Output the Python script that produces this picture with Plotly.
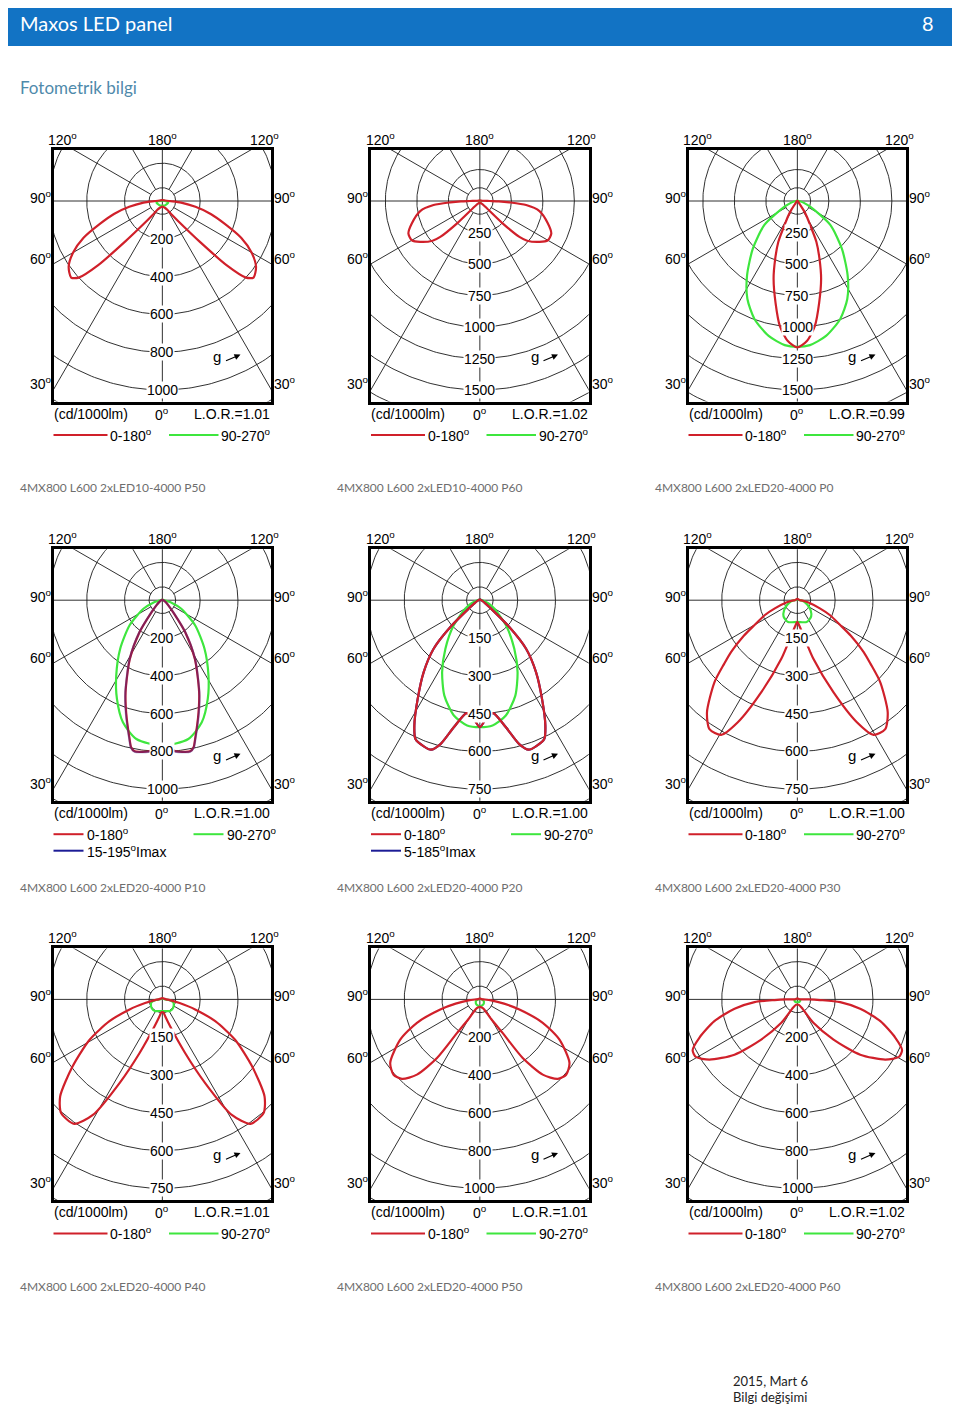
import numpy as np
import plotly.graph_objects as go

# ------------------------------------------------------------------ data
CAPTIONS = ["4MX800 L600 2xLED10-4000 P50", "4MX800 L600 2xLED10-4000 P60", "4MX800 L600 2xLED20-4000 P0",
            "4MX800 L600 2xLED20-4000 P10", "4MX800 L600 2xLED20-4000 P20", "4MX800 L600 2xLED20-4000 P30",
            "4MX800 L600 2xLED20-4000 P40", "4MX800 L600 2xLED20-4000 P50", "4MX800 L600 2xLED20-4000 P60"]
RING_STEP = [200, 250, 250, 200, 150, 150, 150, 200, 200]
RING_COUNT = [5, 6, 6, 5, 5, 5, 5, 5, 5]
LOR = ["1.01", "1.02", "0.99", "1.00", "1.00", "1.00", "1.01", "1.01", "1.02"]
IMAX_LABELS = ["", "", "", "15-195", "5-185", "", "", "", ""]

# gamma (deg from nadir) / intensity (cd/1000lm); C0-C180 plane = red, C90-C270 = green
P1_RED_G = [0, 10, 20, 30, 35, 40, 42.5, 45, 47.5, 50, 55, 60, 65, 70, 75, 80, 85, 88, 90, 100, 120, 150, 180]
P1_RED_I = [30, 32, 38, 55, 90, 180, 290, 480, 600, 630, 605, 545, 460, 350, 265, 178, 100, 55, 35, 15, 8, 5, 5]
P1_GREEN_G = [0, 30, 60, 75, 85, 90, 100, 180]
P1_GREEN_I = [25, 27, 30, 32, 25, 15, 8, 3]

P2_RED_G = [0, 20, 35, 42, 44, 45.5, 47.8, 50, 55.6, 60, 65.5, 71.7, 80.4, 85, 87.4, 89, 90, 95, 120, 180]
P2_RED_I = [15, 18, 25, 45, 80, 250, 424, 490, 574, 623, 623, 569, 480, 369, 234, 150, 80, 20, 8, 5]
P2_GREEN_G = [0, 45, 90, 180]
P2_GREEN_I = [8, 8, 5, 3]

P3_RED_G = [0, 4, 8, 12, 17, 21, 25, 28, 31, 34, 37, 40, 50, 60, 75, 90, 180]
P3_RED_I = [1162, 1112, 1000, 830, 645, 490, 357, 217, 150, 90, 40, 20, 12, 8, 5, 3, 2]
P3_GREEN_G = [0, 5, 12, 20, 27, 34, 43, 54, 66, 75, 85, 90, 180]
P3_GREEN_I = [1157, 1148, 1095, 996, 873, 714, 518, 323, 111, 50, 20, 10, 3]

P4_RED_G = [0, 3, 5.4, 8, 10.4, 12, 13.3, 17.9, 21.8, 29, 35.6, 41.7, 50, 60, 90, 180]
P4_RED_I = [780, 790, 804, 810, 813, 795, 754, 623, 524, 355, 207, 88, 40, 20, 5, 3]
P4_BLUE_G = [0, 3, 5.4, 8, 10.4, 12, 13.3, 17.9, 21.8, 29, 35.6, 41.7, 50, 60, 90, 180]
P4_BLUE_I = [782, 792, 806, 812, 815, 798, 758, 628, 528, 358, 209, 90, 40, 20, 5, 3]
P4_GREEN_G = [0, 10.6, 17.9, 24.7, 31.5, 41, 52.6, 65.9, 75, 90, 180]
P4_GREEN_I = [770, 747, 679, 575, 467, 340, 218, 108, 50, 10, 3]

P5_RED_G = [0, 3.8, 6.75, 11.6, 15.3, 18.1, 21, 24.9, 27.6, 32.2, 38, 43.6, 47.7, 52.9, 60, 75, 90, 180]
P5_RED_I = [504, 462, 451, 515, 592, 624, 621, 607, 561, 463, 362, 266, 158, 55, 25, 10, 5, 3]
P5_BLUE_G = [0, 3.8, 6.75, 11.6, 15.3, 18.1, 21, 24.9, 27.6, 32.2, 38, 43.6, 47.7, 52.9, 60, 75, 90, 180]
P5_BLUE_I = [504, 462, 451, 515, 592, 624, 621, 607, 561, 463, 362, 266, 158, 55, 25, 10, 5, 3]
P5_GREEN_G = [0, 5.8, 12.7, 20.4, 27.7, 35.4, 46.1, 59.8, 70, 80, 90, 180]
P5_GREEN_I = [504, 500, 469, 404, 322, 236, 144, 66, 35, 15, 8, 3]

P6_RED_G = [0, 5, 9.7, 15.3, 21.4, 26, 29.5, 34.3, 38.9, 45.3, 49, 52, 56.4, 60, 65.3, 70, 78, 85, 90, 180]
P6_RED_I = [86, 105, 141, 241, 392, 539, 614, 619, 571, 463, 385, 334, 255, 195, 143, 95, 45, 20, 10, 5]
P6_GREEN_G = [0, 23, 40, 53, 65, 80, 90, 180]
P6_GREEN_I = [86, 94, 85, 66, 45, 25, 10, 3]

P7_RED_G = [0, 5, 10, 16, 23, 27.1, 31, 35.3, 41.7, 46.5, 53.3, 61, 67.6, 73, 78, 85, 90, 180]
P7_RED_I = [50, 52, 70, 110, 231, 373, 535, 605, 604, 559, 444, 330, 227, 136, 70, 30, 15, 5]
P7_GREEN_G = [0, 20, 33, 50, 65, 75, 85, 90, 180]
P7_GREEN_I = [46, 49, 55, 55, 50, 45, 25, 10, 3]

P8_RED_G = [0, 10, 20, 23.4, 30, 34.2, 36.2, 39.9, 44.4, 48.9, 54.7, 63.2, 69.6, 75.7, 80, 85, 90, 100, 180]
P8_RED_I = [39, 42, 50, 58, 120, 214, 384, 519, 589, 606, 581, 472, 355, 216, 130, 60, 20, 8, 5]
P8_GREEN_G = [0, 30, 60, 80, 90, 180]
P8_GREEN_I = [35, 33, 25, 15, 8, 3]

P9_RED_G = [0, 15, 27.5, 34.4, 42, 48.7, 55.6, 60.4, 64.1, 68.6, 75.3, 81.5, 86.4, 88.3, 90, 95, 180]
P9_RED_I = [27, 30, 50, 150, 286, 443, 564, 617, 616, 557, 454, 336, 227, 120, 60, 10, 5]
P9_GREEN_G = [0, 45, 80, 90, 180]
P9_GREEN_I = [15, 17, 15, 8, 3]

PANELS = [
    dict(red=(P1_RED_G, P1_RED_I), green=(P1_GREEN_G, P1_GREEN_I)),
    dict(red=(P2_RED_G, P2_RED_I), green=(P2_GREEN_G, P2_GREEN_I)),
    dict(red=(P3_RED_G, P3_RED_I), green=(P3_GREEN_G, P3_GREEN_I)),
    dict(red=(P4_RED_G, P4_RED_I), green=(P4_GREEN_G, P4_GREEN_I), blue=(P4_BLUE_G, P4_BLUE_I), blue_top=True),
    dict(red=(P5_RED_G, P5_RED_I), green=(P5_GREEN_G, P5_GREEN_I), blue=(P5_BLUE_G, P5_BLUE_I), blue_top=False),
    dict(red=(P6_RED_G, P6_RED_I), green=(P6_GREEN_G, P6_GREEN_I)),
    dict(red=(P7_RED_G, P7_RED_I), green=(P7_GREEN_G, P7_GREEN_I)),
    dict(red=(P8_RED_G, P8_RED_I), green=(P8_GREEN_G, P8_GREEN_I)),
    dict(red=(P9_RED_G, P9_RED_I), green=(P9_GREEN_G, P9_GREEN_I)),
]

# ------------------------------------------------------------------ geometry / style
W, H, OFF = 952, 1401, 8
BOX_LEFT0, COL_STEP = 53.5, 317.5
BOX_TOP0, ROW_STEP = 150.0, 399.2
BOX_W, BOX_H = 217.7, 251.5
POLE_DY = 51.0
OUTER_RING_PX = 189.0
SMALL_R_PX = 13.3

RED, GREEN, BLUE = "#d0202a", "#3ee63e", "#1c1c96"
LAB = dict(family="Liberation Sans, Arial", size=14, color="black")


def PX(sx):
    return (sx - OFF) / W


def PY(sy):
    return 1 - (sy - OFF) / H


def curve_xy(g, i):
    g = np.radians(np.asarray(g, float))
    i = np.asarray(i, float)
    xr, yr = i * np.sin(g), -i * np.cos(g)
    x = np.concatenate([-xr[::-1], xr[1:]])
    y = np.concatenate([yr[::-1], yr[1:]])
    return x, y


fig = go.Figure()
annotations = []
shapes = []
layout_axes = {}

for p, panel in enumerate(PANELS):
    row, col = divmod(p, 3)
    n = p + 1
    xa, ya = f"x{n}", f"y{n}"
    left = BOX_LEFT0 + col * COL_STEP
    top = BOX_TOP0 + row * ROW_STEP
    right, bottom = left + BOX_W, top + BOX_H
    cx = left + BOX_W / 2
    step = RING_STEP[p]
    nring = RING_COUNT[p]
    u = step * nring / OUTER_RING_PX  # data units per pixel

    layout_axes[f"xaxis{n}"] = dict(domain=[PX(left), PX(right)], range=[-BOX_W / 2 * u, BOX_W / 2 * u],
                                    anchor=ya, showgrid=False, zeroline=False, showticklabels=False, ticks="",
                                    showline=True, mirror=True, linewidth=2.6, linecolor="black", fixedrange=True)
    layout_axes[f"yaxis{n}"] = dict(domain=[PY(bottom), PY(top)], range=[-(BOX_H - POLE_DY) * u, POLE_DY * u],
                                    anchor=xa, showgrid=False, zeroline=False, showticklabels=False, ticks="",
                                    showline=True, mirror=True, linewidth=2.6, linecolor="black", fixedrange=True)

    # grid rings
    t = np.linspace(0, 2 * np.pi, 361)
    gx, gy = [], []
    for k in range(1, nring + 6):
        gx += list(k * step * np.cos(t)) + [None]
        gy += list(k * step * np.sin(t)) + [None]
    r0 = SMALL_R_PX * u
    gx += list(r0 * np.cos(t)) + [None]
    gy += list(r0 * np.sin(t)) + [None]
    # spokes every 30 deg
    far = (nring + 6) * step
    for a in range(0, 360, 30):
        ar = np.radians(a)
        start = 0 if a % 90 == 0 else r0
        gx += [start * np.sin(ar), far * np.sin(ar), None]
        gy += [-start * np.cos(ar), -far * np.cos(ar), None]
    fig.add_trace(go.Scatter(x=gx, y=gy, mode="lines", line=dict(color="#1a1a1a", width=0.9),
                             xaxis=xa, yaxis=ya, hoverinfo="skip"))

    # curves
    order = ["green"]
    if "blue" in panel and not panel.get("blue_top"):
        order.append("blue")
    order.append("red")
    if "blue" in panel and panel.get("blue_top"):
        order.append("blue")
    for key in order:
        g, i = panel[key]
        x, y = curve_xy(g, i)
        color = {"red": RED, "green": GREEN, "blue": BLUE}[key]
        op = 0.4 if (key == "blue" and panel.get("blue_top")) else 1.0
        fig.add_trace(go.Scatter(x=x, y=y, mode="lines", line=dict(color=color, width=2.2, shape="spline", smoothing=0.7),
                                 opacity=op, xaxis=xa, yaxis=ya, hoverinfo="skip"))

    # ring labels
    for k in range(1, nring + 1):
        annotations.append(dict(x=0, y=-k * step, xref=xa, yref=ya, text=str(k * step), showarrow=False,
                                font=LAB, bgcolor="white", borderpad=0, xanchor="center", yanchor="middle"))

    deg = "<sup>o</sup>"
    def lab(sx, sy, txt, xanchor="center"):
        annotations.append(dict(x=PX(sx), y=PY(sy), xref="paper", yref="paper", text=txt, showarrow=False,
                                font=LAB, xanchor=xanchor, yanchor="middle"))

    lab(left + 9, top - 11, "120" + deg)
    lab(cx, top - 11, "180" + deg)
    lab(right - 7, top - 11, "120" + deg)
    for txt, dy in (("90", POLE_DY - 4), ("60", 108.3), ("30", 233.3)):
        lab(left - 13, top + dy, txt + deg)
        lab(right + 14, top + dy, txt + deg)
    lab(left - 2, bottom + 12.5, "(cd/1000lm)", "left")
    lab(cx, bottom + 12.5, "0" + deg)
    lab(right + 1, bottom + 12.5, "L.O.R.=" + LOR[p], "right")

    # legend
    ly = bottom + 33.5
    if IMAX_LABELS[p]:
        shapes.append(dict(type="line", xref="paper", yref="paper", x0=PX(left), x1=PX(left + 30), y0=PY(ly), y1=PY(ly),
                           line=dict(color=RED, width=2)))
        lab(left + 31, ly, "0-180" + deg, "left")
        shapes.append(dict(type="line", xref="paper", yref="paper", x0=PX(left + 140), x1=PX(left + 170), y0=PY(ly), y1=PY(ly),
                           line=dict(color=GREEN, width=2)))
        lab(left + 171, ly, "90-270" + deg, "left")
        shapes.append(dict(type="line", xref="paper", yref="paper", x0=PX(left), x1=PX(left + 30), y0=PY(ly + 16.5), y1=PY(ly + 16.5),
                           line=dict(color=BLUE, width=2)))
        lab(left + 31, ly + 16.5, IMAX_LABELS[p] + deg + "Imax", "left")
    else:
        shapes.append(dict(type="line", xref="paper", yref="paper", x0=PX(left), x1=PX(left + 54), y0=PY(ly), y1=PY(ly),
                           line=dict(color=RED, width=2)))
        lab(left + 54.5, ly, "0-180" + deg, "left")
        shapes.append(dict(type="line", xref="paper", yref="paper", x0=PX(left + 115.5), x1=PX(left + 165), y0=PY(ly), y1=PY(ly),
                           line=dict(color=GREEN, width=2)))
        lab(left + 165.5, ly, "90-270" + deg, "left")

    # g arrow
    annotations.append(dict(x=PX(left + 163.5), y=PY(top + 206), xref="paper", yref="paper", text="g",
                            showarrow=False, font=dict(family="Liberation Sans, Arial", size=15, color="black"),
                            xanchor="center", yanchor="middle"))
    annotations.append(dict(x=PX(left + 187), y=PY(top + 204.5), xref="paper", yref="paper", text="",
                            showarrow=True, ax=-16, ay=7, arrowhead=2, arrowsize=1.1, arrowwidth=1.1,
                            arrowcolor="black", standoff=0))

    # caption
    annotations.append(dict(x=PX(left - 36), y=PY(top + 338), xref="paper", yref="paper", text=CAPTIONS[p],
                            showarrow=False, font=dict(family="Lato, Open Sans", size=12, color="#6e6e6e"),
                            xanchor="left", yanchor="middle"))

# header / page texts
shapes.append(dict(type="rect", xref="paper", yref="paper", x0=PX(2), x1=PX(955), y0=PY(46), y1=PY(6),
                   fillcolor="#1273c4", line=dict(width=0), layer="below"))
annotations.append(dict(x=PX(18), y=PY(23), xref="paper", yref="paper", text="Maxos LED panel", showarrow=False,
                        font=dict(family="Lato, Open Sans", size=20, color="white"), xanchor="left", yanchor="middle"))
annotations.append(dict(x=PX(936), y=PY(23), xref="paper", yref="paper", text="8", showarrow=False,
                        font=dict(family="Lato, Open Sans", size=20, color="white"), xanchor="right", yanchor="middle"))
annotations.append(dict(x=PX(18), y=PY(88), xref="paper", yref="paper", text="Fotometrik bilgi", showarrow=False,
                        font=dict(family="Lato, Open Sans", size=17, color="#4f8aab"), xanchor="left", yanchor="middle"))
annotations.append(dict(x=PX(731), y=PY(1381), xref="paper", yref="paper", text="2015, Mart 6", showarrow=False,
                        font=dict(family="Lato, Open Sans", size=13, color="#222222"), xanchor="left", yanchor="middle"))
annotations.append(dict(x=PX(731), y=PY(1397), xref="paper", yref="paper", text="Bilgi değişimi", showarrow=False,
                        font=dict(family="Lato, Open Sans", size=13, color="#222222"), xanchor="left", yanchor="middle"))

fig.update_layout(width=W, height=H, margin=dict(l=0, r=0, t=0, b=0), paper_bgcolor="white",
                  plot_bgcolor="white", showlegend=False, annotations=annotations, shapes=shapes, **layout_axes)

fig.write_html("out.html")
